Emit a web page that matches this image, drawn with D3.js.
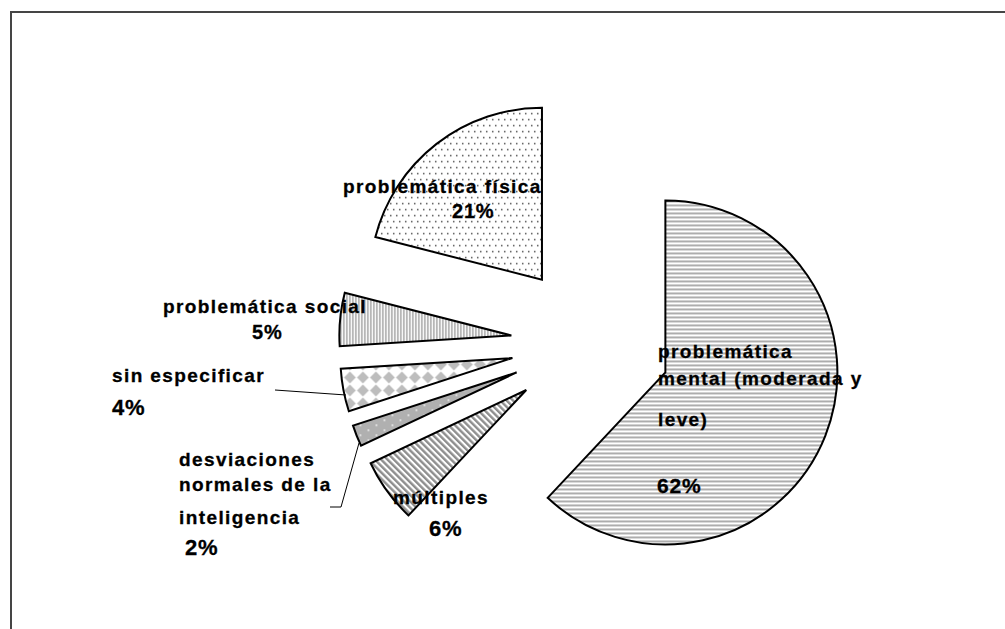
<!DOCTYPE html>
<html>
<head>
<meta charset="utf-8">
<script src="https://cdn.jsdelivr.net/npm/d3@7"></script>
<style>
  html, body { margin: 0; padding: 0; background: #fff; }
  svg { display: block; }
  text { font-family: "Liberation Sans", Arial, sans-serif; font-weight: bold; fill: #000; }
</style>
</head>
<body>
<svg id="chart" width="1005" height="629"></svg>
<script>
// Category order follows the pie clockwise from 12 o'clock
const categories = [
  "problemática mental (moderada y leve)",
  "múltiples",
  "desviaciones normales de la inteligencia",
  "sin especificar",
  "problemática social",
  "problemática física"
];
const shares = [62, 6, 2, 4, 5, 21];
// How each category name is broken into lines on the chart
const nameLines = [
  ["problemática", "mental (moderada y", "leve)"],
  ["múltiples"],
  ["desviaciones", "normales de la", "inteligencia"],
  ["sin especificar"],
  ["problemática social"],
  ["problemática física"]
];

const W = 1005, H = 629;
const svg = d3.select("#chart");
svg.append("rect").attr("width", W).attr("height", H).attr("fill", "#fff");

// ---- fill patterns ----
const defs = svg.append("defs");

// horizontal stripes
const pH = defs.append("pattern").attr("id", "pat-hstripe")
  .attr("patternUnits", "userSpaceOnUse").attr("width", 4).attr("height", 4);
pH.append("rect").attr("width", 4).attr("height", 4).attr("fill", "#fff");
pH.append("rect").attr("width", 4).attr("height", 2).attr("fill", "#adadad");

// diagonal stripes
const pD = defs.append("pattern").attr("id", "pat-diag")
  .attr("patternUnits", "userSpaceOnUse").attr("width", 4.5).attr("height", 4.5)
  .attr("patternTransform", "rotate(-45)");
pD.append("rect").attr("width", 4.5).attr("height", 4.5).attr("fill", "#fff");
pD.append("rect").attr("width", 2.4).attr("height", 4.5).attr("fill", "#8e8e8e");

// gray with sparse white dots
const pG = defs.append("pattern").attr("id", "pat-graydot")
  .attr("patternUnits", "userSpaceOnUse").attr("width", 16).attr("height", 10);
pG.append("rect").attr("width", 16).attr("height", 10).attr("fill", "#b0b0b0");
pG.append("rect").attr("x", 3).attr("y", 2).attr("width", 1.5).attr("height", 1.5).attr("fill", "#fff");
pG.append("rect").attr("x", 11).attr("y", 7).attr("width", 1.5).attr("height", 1.5).attr("fill", "#fff");

// diamond checker
const dS = 13;
const pC = defs.append("pattern").attr("id", "pat-diamond")
  .attr("patternUnits", "userSpaceOnUse").attr("width", dS).attr("height", dS);
pC.append("rect").attr("width", dS).attr("height", dS).attr("fill", "#fff");
pC.append("polygon")
  .attr("points", `${dS/2},0.6 ${dS-0.6},${dS/2} ${dS/2},${dS-0.6} 0.6,${dS/2}`)
  .attr("fill", "#bdbdbd");

// vertical stripes
const pV = defs.append("pattern").attr("id", "pat-vstripe")
  .attr("patternUnits", "userSpaceOnUse").attr("width", 3).attr("height", 3);
pV.append("rect").attr("width", 3).attr("height", 3).attr("fill", "#fff");
pV.append("rect").attr("width", 1.2).attr("height", 3).attr("fill", "#8f8f8f");

// fine dots
const pP = defs.append("pattern").attr("id", "pat-dots")
  .attr("patternUnits", "userSpaceOnUse").attr("width", 6).attr("height", 12);
pP.append("rect").attr("width", 6).attr("height", 12).attr("fill", "#fff");
pP.append("rect").attr("x", 1).attr("y", 1).attr("width", 1.5).attr("height", 1.5).attr("fill", "#555");
pP.append("rect").attr("x", 4).attr("y", 7).attr("width", 1.5).attr("height", 1.5).attr("fill", "#555");

const fills = ["url(#pat-hstripe)", "url(#pat-diag)", "url(#pat-graydot)",
               "url(#pat-diamond)", "url(#pat-vstripe)", "url(#pat-dots)"];

// ---- frame ----
svg.append("path")
  .attr("d", `M11,${H} V12 H${W}`)
  .attr("fill", "none").attr("stroke", "#454545").attr("stroke-width", 2);

// ---- exploded pie ----
const cx = 591, cy = 343, radius = 172, explode = 80;

const pie = d3.pie().sort(null).value(d => d)(shares);
const arc = d3.arc().innerRadius(0).outerRadius(radius);

svg.append("g").attr("transform", `translate(${cx},${cy})`)
  .selectAll("path").data(pie).join("path")
  .attr("transform", d => {
    const mid = (d.startAngle + d.endAngle) / 2;
    return `translate(${explode * Math.sin(mid)},${-explode * Math.cos(mid)})`;
  })
  .attr("d", arc)
  .attr("fill", (d, i) => fills[i])
  .attr("stroke", "#000").attr("stroke-width", 2).attr("stroke-linejoin", "miter");

// ---- leader lines ----
const leaders = svg.append("g").attr("fill", "none").attr("stroke", "#000").attr("stroke-width", 1);
leaders.append("path").attr("d", "M275,390 L346,395");
leaders.append("path").attr("d", "M330,507 H341 L359,443");

// ---- labels ----
const nameSize = 19;
const labelLayout = [
  { x: 658, ys: [358, 385, 426], px: 657, py: 493, psize: 21 },
  { x: 393, ys: [504], px: 429, py: 536, psize: 22 },
  { x: 179, ys: [466, 491, 524], px: 185, py: 555, psize: 22 },
  { x: 112, ys: [382], px: 112, py: 415, psize: 22 },
  { x: 163, ys: [313], px: 252, py: 339, psize: 20 },
  { x: 343, ys: [193], px: 452, py: 218, psize: 20 }
];

const labels = svg.append("g");
shares.forEach((v, i) => {
  const L = labelLayout[i];
  nameLines[i].forEach((line, j) => {
    labels.append("text")
      .attr("x", L.x).attr("y", L.ys[j])
      .attr("font-size", nameSize)
      .attr("letter-spacing", 1.4)
      .attr("stroke", "#000").attr("stroke-width", 0.3)
      .text(line);
  });
  labels.append("text")
    .attr("x", L.px).attr("y", L.py)
    .attr("font-size", L.psize)
    .attr("letter-spacing", 0.8)
    .attr("stroke", "#000").attr("stroke-width", 0.3)
    .text(`${v}%`);
});
</script>
</body>
</html>
